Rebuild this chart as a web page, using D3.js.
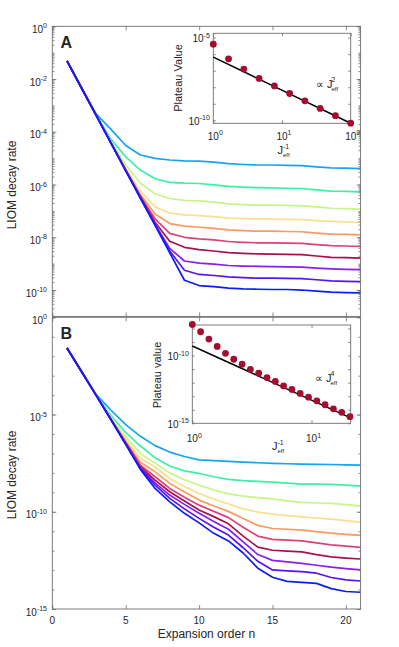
<!DOCTYPE html>
<html><head><meta charset="utf-8">
<script src="https://cdn.jsdelivr.net/npm/d3@7"></script>
<style>
body{margin:0;background:#fff}
text{font-family:"Liberation Sans",Arial,Helvetica,sans-serif;fill:#262626}
</style>
</head><body>
<svg id="c" width="399" height="647"></svg>
<script>
// ---------------- DATA ----------------
const orderN = [1,2,3,4,5,6,7,8,9,10,11,12,13,14,15,16,17,18,19,20,21];
const seriesColors = ["#14a4f0","#3ef0a6","#c6f58a","#f9df8e","#f99a5e","#d9437a","#a5124d","#8a1df2","#5812f4","#0a1ef5"];
const xTicks = [0,5,10,15,20];
const yTickExpA = [0,-2,-4,-6,-8,-10];
const yTickExpB = [0,-5,-10,-15];

// log10 of LIOM decay rate, panel A (curves top -> bottom)
const decayA_log10 = [
 [-1.31,-2.35,-3.33,-3.91,-4.52,-4.88,-5.01,-5.07,-5.10,-5.11,-5.15,-5.21,-5.24,-5.26,-5.26,-5.27,-5.28,-5.33,-5.37,-5.38,-5.40],
 [-1.31,-2.35,-3.38,-4.28,-4.95,-5.45,-5.78,-5.92,-5.95,-5.96,-6.01,-6.07,-6.10,-6.12,-6.13,-6.14,-6.15,-6.20,-6.25,-6.26,-6.28],
 [-1.31,-2.35,-3.39,-4.38,-5.25,-5.95,-6.35,-6.53,-6.60,-6.62,-6.67,-6.73,-6.76,-6.78,-6.78,-6.79,-6.81,-6.85,-6.90,-6.91,-6.93],
 [-1.31,-2.35,-3.39,-4.41,-5.38,-6.25,-6.85,-7.08,-7.15,-7.18,-7.22,-7.27,-7.29,-7.30,-7.31,-7.32,-7.33,-7.37,-7.40,-7.42,-7.43],
 [-1.31,-2.35,-3.39,-4.42,-5.43,-6.38,-7.12,-7.48,-7.58,-7.62,-7.66,-7.72,-7.75,-7.77,-7.77,-7.78,-7.79,-7.84,-7.88,-7.89,-7.91],
 [-1.31,-2.35,-3.39,-4.43,-5.45,-6.44,-7.30,-7.85,-8.00,-8.06,-8.10,-8.16,-8.19,-8.21,-8.21,-8.22,-8.23,-8.28,-8.32,-8.33,-8.35],
 [-1.31,-2.35,-3.39,-4.43,-5.46,-6.48,-7.43,-8.15,-8.38,-8.47,-8.52,-8.58,-8.61,-8.63,-8.64,-8.65,-8.66,-8.71,-8.76,-8.77,-8.79],
 [-1.31,-2.35,-3.39,-4.43,-5.47,-6.50,-7.50,-8.42,-8.90,-8.98,-9.02,-9.07,-9.09,-9.10,-9.11,-9.12,-9.13,-9.17,-9.20,-9.22,-9.23],
 [-1.31,-2.35,-3.39,-4.43,-5.47,-6.51,-7.53,-8.52,-9.25,-9.41,-9.45,-9.50,-9.53,-9.55,-9.55,-9.56,-9.57,-9.61,-9.65,-9.67,-9.68],
 [-1.31,-2.35,-3.39,-4.43,-5.47,-6.51,-7.55,-8.59,-9.63,-9.83,-9.87,-9.93,-9.96,-9.97,-9.98,-9.98,-10.00,-10.04,-10.08,-10.10,-10.11]
];
// log10 of LIOM decay rate, panel B
const decayB_log10 = [
 [-1.58,-2.80,-3.98,-4.78,-5.52,-6.12,-6.60,-6.93,-7.16,-7.33,-7.37,-7.41,-7.45,-7.48,-7.51,-7.53,-7.55,-7.56,-7.57,-7.59,-7.60],
 [-1.58,-2.80,-4.02,-5.05,-5.92,-6.62,-7.22,-7.65,-7.90,-8.03,-8.20,-8.33,-8.40,-8.44,-8.48,-8.53,-8.58,-8.58,-8.59,-8.63,-8.68],
 [-1.58,-2.80,-4.03,-5.15,-6.15,-7.00,-7.50,-8.00,-8.35,-8.63,-8.88,-9.08,-9.20,-9.27,-9.34,-9.44,-9.52,-9.55,-9.57,-9.63,-9.71],
 [-1.58,-2.80,-4.03,-5.20,-6.28,-7.25,-7.70,-8.29,-8.70,-9.06,-9.35,-9.60,-9.85,-10.02,-10.12,-10.20,-10.26,-10.32,-10.38,-10.46,-10.55],
 [-1.58,-2.80,-4.03,-5.23,-6.38,-7.45,-7.95,-8.54,-8.98,-9.40,-9.70,-9.98,-10.35,-10.70,-10.86,-10.90,-10.94,-11.02,-11.10,-11.16,-11.21],
 [-1.58,-2.80,-4.03,-5.25,-6.45,-7.60,-8.20,-8.80,-9.25,-9.66,-9.98,-10.30,-10.80,-11.25,-11.42,-11.46,-11.50,-11.60,-11.70,-11.77,-11.83],
 [-1.58,-2.80,-4.03,-5.26,-6.48,-7.68,-8.37,-8.97,-9.45,-9.91,-10.25,-10.62,-11.25,-11.82,-11.98,-12.02,-12.06,-12.20,-12.32,-12.38,-12.43],
 [-1.58,-2.80,-4.03,-5.27,-6.50,-7.74,-8.51,-9.14,-9.62,-10.08,-10.50,-10.90,-11.55,-12.20,-12.50,-12.58,-12.65,-12.75,-12.85,-12.92,-12.99],
 [-1.58,-2.80,-4.03,-5.27,-6.52,-7.78,-8.63,-9.31,-9.85,-10.34,-10.80,-11.20,-11.85,-12.55,-12.99,-13.04,-13.08,-13.16,-13.38,-13.50,-13.56],
 [-1.58,-2.80,-4.03,-5.27,-6.53,-7.82,-8.80,-9.49,-10.08,-10.57,-11.11,-11.50,-12.12,-12.90,-13.37,-13.58,-13.63,-13.68,-13.95,-14.10,-14.14]
];

// Insets: plateau value vs J_eff^-1
const jInvA = [1,1.668,2.783,4.642,7.743,12.92,21.54,35.94,59.95,100];
const plateauA_log10 = [-5.40,-6.28,-6.90,-7.47,-7.92,-8.38,-8.82,-9.28,-9.72,-10.17];
const fitA_x = [1,100];
const fitA_log10 = [-6.18,-10.18];

const jInvB = [1,1.174,1.378,1.617,1.898,2.228,2.616,3.070,3.604,4.231,4.966,5.829,6.843,8.032,9.428,11.07,12.99,15.25,17.90,21.01];
const plateauB_log10 = [-7.70,-8.24,-8.78,-9.32,-9.83,-10.27,-10.64,-11.01,-11.30,-11.62,-11.91,-12.24,-12.50,-12.79,-13.07,-13.34,-13.63,-13.93,-14.19,-14.51];
const fitB_x = [1,21.01];
const fitB_log10 = [-9.29,-14.58];

// ---------------- DRAW ----------------
const svg = d3.select('#c');
const axisCol = '#6e6e6e';
const x = d3.scaleLinear().domain([0,21]).range([52.3,360.6]);
const L = 52.3, R = 360.6;

function sup(g, px, py, base, s, anchor, fs, sfs){
  const t = g.append('text').attr('x',px).attr('y',py).attr('text-anchor',anchor).style('font-size',fs+'px');
  t.append('tspan').text(base);
  t.append('tspan').attr('dy',-0.45*fs).style('font-size',sfs+'px').text(s);
  return t;
}
function styleAxis(g){
  g.select('.domain').remove();
  g.selectAll('.tick line').attr('stroke',axisCol).attr('stroke-width',0.8);
  g.selectAll('.tick text').remove();
}

function mainPanel(cfg){
  const g = svg.append('g');
  const y = d3.scaleLog().domain(cfg.ydom).range([cfg.bottom,cfg.top]);
  const line = d3.line().x((d,i)=>x(orderN[i])).y(d=>y(Math.pow(10,d)));
  cfg.data.forEach((s,k)=>{
    g.append('path').datum(s).attr('d',line).attr('fill','none')
     .attr('stroke',seriesColors[k]).attr('stroke-width',1.7).attr('stroke-linejoin','round');
  });
  g.append('rect').attr('x',L).attr('y',cfg.top).attr('width',R-L).attr('height',cfg.bottom-cfg.top)
   .attr('fill','none').attr('stroke',axisCol).attr('stroke-width',0.9);
  styleAxis(g.append('g').attr('transform',`translate(0,${cfg.bottom})`).call(d3.axisBottom(x).tickValues(xTicks).tickSize(-4)));
  styleAxis(g.append('g').attr('transform',`translate(0,${cfg.top})`).call(d3.axisTop(x).tickValues(xTicks).tickSize(-4)));
  const major = cfg.majorExp.map(e=>Math.pow(10,e));
  const minor = cfg.minorVals;
  [[L,d3.axisLeft],[R,d3.axisRight]].forEach(([xp,ax])=>{
    styleAxis(g.append('g').attr('transform',`translate(${xp},0)`).call(ax(y).tickValues(major).tickSize(-4)));
    styleAxis(g.append('g').attr('transform',`translate(${xp},0)`).call(ax(y).tickValues(minor).tickSize(-2.2)));
  });
  cfg.majorExp.forEach(e=>{
    sup(g, 47, y(Math.pow(10,e))+6.5, '10', String(e), 'end', 10, 7);
  });
  g.append('text').attr('transform',`translate(15.5,${cfg.ylabY}) rotate(-90)`).attr('text-anchor','middle')
   .style('font-size','12px').text('LIOM decay rate');
  g.append('text').attr('x',60.5).attr('y',cfg.top+22).style('font-size','16px').style('font-weight','bold').text(cfg.key);
  return {g,y};
}

const minorA = [];
for (let k=-11;k<=0;k++) for (let m=1;m<=9;m++){ const v=m*Math.pow(10,k); if (v<=1 && v>=1e-11) minorA.push(v); }
const minorB = [];
for (let k=-15;k<=0;k++) minorB.push(Math.pow(10,k));

const pA = mainPanel({key:'A',top:26.3,bottom:316.4,ydom:[1e-11,1],data:decayA_log10,majorExp:yTickExpA,minorVals:minorA,ylabY:185});
const pB = mainPanel({key:'B',top:317.3,bottom:609,ydom:[1e-15,1],data:decayB_log10,majorExp:yTickExpB,minorVals:minorB,ylabY:475});

xTicks.forEach(t=>{
  svg.append('text').attr('x',x(t)).attr('y',624).attr('text-anchor','middle').style('font-size','10px').text(t);
});
svg.append('text').attr('x',(L+R)/2).attr('y',638).attr('text-anchor','middle').style('font-size','12px').text('Expansion order n');

// ---------------- INSETS ----------------
function inset(cfg){
  const g = svg.append('g');
  const xi = d3.scaleLog().domain(cfg.xdom).range([cfg.x0,cfg.x1]);
  const yi = d3.scaleLog().domain(cfg.ydom).range([cfg.y1,cfg.y0]);
  g.append('rect').attr('x',cfg.x0).attr('y',cfg.y0).attr('width',cfg.x1-cfg.x0).attr('height',cfg.y1-cfg.y0)
   .attr('fill','#fff').attr('stroke',axisCol).attr('stroke-width',0.9);
  const xt = cfg.xTickVals, yt = cfg.yMinor;
  styleAxis(g.append('g').attr('transform',`translate(0,${cfg.y1})`).call(d3.axisBottom(xi).tickValues(xt).tickSize(-3)));
  styleAxis(g.append('g').attr('transform',`translate(0,${cfg.y0})`).call(d3.axisTop(xi).tickValues(xt).tickSize(-3)));
  styleAxis(g.append('g').attr('transform',`translate(${cfg.x0},0)`).call(d3.axisLeft(yi).tickValues(yt).tickSize(-2.5)));
  styleAxis(g.append('g').attr('transform',`translate(${cfg.x1},0)`).call(d3.axisRight(yi).tickValues(yt).tickSize(-2.5)));
  const fl = d3.line().x((d,i)=>xi(cfg.fitX[i])).y(d=>yi(Math.pow(10,d)));
  g.append('path').datum(cfg.fitY).attr('d',fl).attr('fill','none').attr('stroke','#000').attr('stroke-width',1.5);
  g.selectAll('circle.p').data(cfg.py).enter().append('circle')
   .attr('cx',(d,i)=>xi(cfg.px[i])).attr('cy',d=>yi(Math.pow(10,d))).attr('r',3.4).attr('fill','#a50d2e');
  cfg.yLabExp.forEach(e=> sup(g, cfg.x0-3.5, yi(Math.pow(10,e))+4.5, '10', String(e), 'end', 10, 7));
  cfg.xLabExp.forEach(e=> sup(g, xi(Math.pow(10,e))+2, cfg.xLabY, '10', String(e), 'middle', 10, 7));
  g.append('text').attr('transform',`translate(${cfg.ylabX},${cfg.ylabY}) rotate(-90)`).attr('text-anchor','middle')
   .style('font-size','11px').text(cfg.ylab);
  const jx = cfg.jX, jy = cfg.jY;
  g.append('text').attr('x',jx).attr('y',jy).style('font-size','11px').text('J');
  g.append('text').attr('x',jx+5.5).attr('y',jy-5.5).style('font-size','7px').text('-1');
  g.append('text').attr('x',jx+5.5).attr('y',jy+3).style('font-size','6px').text('eff');
  const ax0 = cfg.annX, ay0 = cfg.annY;
  g.append('text').attr('x',ax0).attr('y',ay0).style('font-size','11px').text('\u221D J');
  g.append('text').attr('x',ax0+15.5).attr('y',ay0-6).style('font-size','7px').text(cfg.power);
  g.append('text').attr('x',ax0+15.5).attr('y',ay0+3).style('font-size','6px').text('eff');
}

const insetMinorA = [];
for (let k=-10;k<=-5;k++) insetMinorA.push(Math.pow(10,k));
const insetMinorB = [];
for (let k=-15;k<=-8;k++) insetMinorB.push(Math.pow(10,k));

inset({x0:213.3,x1:350.7,y0:33.3,y1:123.3,xdom:[1,100],ydom:[Math.pow(10,-10.18),Math.pow(10,-4.74)],
  xTickVals:[1,10,100],yMinor:insetMinorA,fitX:fitA_x,fitY:fitA_log10,px:jInvA,py:plateauA_log10,
  yLabExp:[-5,-10],xLabExp:[0,1,2],xLabY:139.5,ylab:'Plateau Value',ylabX:181.5,ylabY:78,
  jX:277.5,jY:154,annX:316,annY:88,power:'2'});

inset({x0:192.3,x1:350.7,y0:325,y1:423.3,xdom:[1,21.3],ydom:[1e-15,Math.pow(10,-7.74)],
  xTickVals:[1,10],yMinor:insetMinorB,fitX:fitB_x,fitY:fitB_log10,px:jInvB,py:plateauB_log10,
  yLabExp:[-10,-15],xLabExp:[0,1],xLabY:442,ylab:'Plateau value',ylabX:160.5,ylabY:375,
  jX:272,jY:450,annX:315,annY:382,power:'4'});
</script>
</body></html>
